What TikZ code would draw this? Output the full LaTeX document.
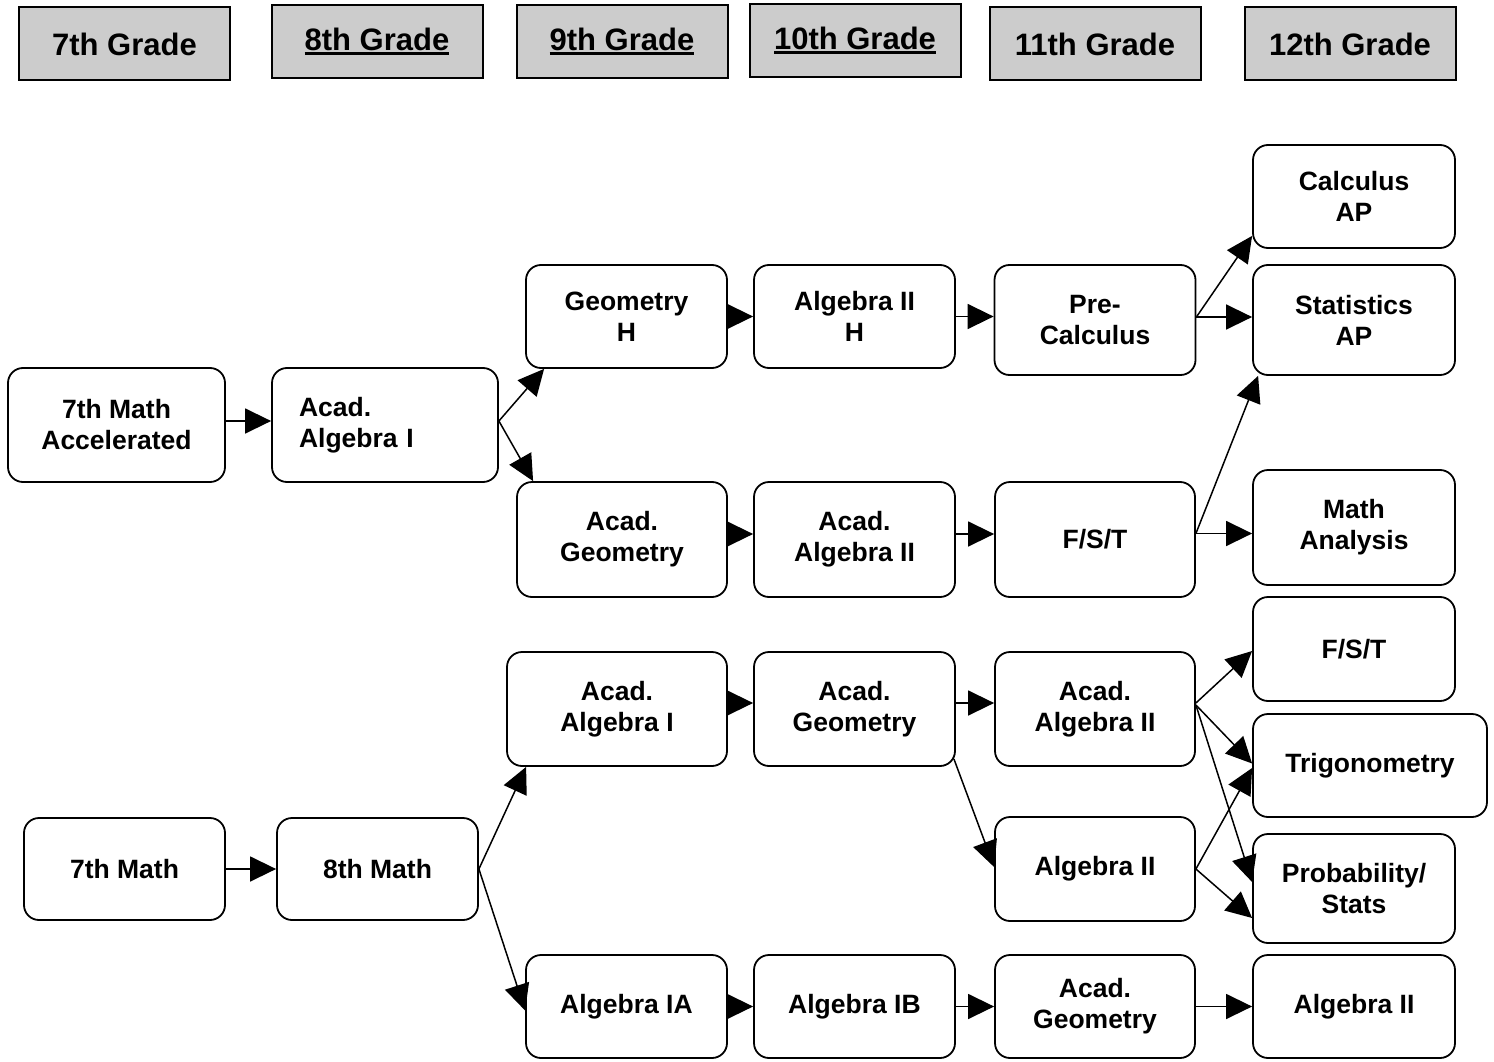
\documentclass[tikz,border=0pt]{standalone}
\usepackage{fontspec}
\setmainfont{Liberation Sans}
\usepackage{tikz}
\usetikzlibrary{arrows.meta, positioning}
\newcommand{\gradeul}[1]{\setbox0\hbox{#1}\rlap{\rule[-4.5pt]{\wd0}{2.6pt}}\box0}

\begin{document}
\begin{tikzpicture}[x=1pt, y=-1pt, >={Triangle[length=26pt, width=25pt]},
    grade/.style={draw, fill=gray!40, line width=2pt, minimum width=211pt, minimum height=73pt,
                  inner sep=0pt, font=\fontsize{31}{36}\selectfont\bfseries},
    course/.style={draw, rounded corners=15pt, line width=1.8pt, minimum width=201pt, minimum height=103pt,
                   inner sep=0pt, align=center, font=\fontsize{26.5}{31}\selectfont\bfseries},
    link/.style={->, line width=1.5pt}]
    \useasboundingbox (0,0) rectangle (1494,1062);

    % grade headers
    \node[grade] (G7)  at (124.5,44)  {7th Grade};
    \node[grade] (G8)  at (377,41.5)  {\gradeul{8th Grade}};
    \node[grade] (G9)  at (622,41.5)  {\gradeul{9th Grade}};
    \node[grade] (G10) at (855,40.5)  {\gradeul{10th Grade}};
    \node[grade] (G11) at (1095,44)   {11th Grade};
    \node[grade] (G12) at (1350,44)   {12th Grade};

    % accelerated track
    \node[course, minimum width=217pt, minimum height=114pt] (Accel) at (116.5,425) {7th Math\\Accelerated};
    \node[course, text width=172pt, inner xsep=27pt, minimum height=114pt, align=left] (AlgIa) at (385,425) {Acad.\\Algebra I};
    \node[course] (GeoH)    at (626.5,316.5) {Geometry\\H};
    \node[course] (AlgIIH)  at (854.5,316.5) {Algebra II\\H};
    \node[course, minimum height=110pt] (PreCalc) at (1095,320) {Pre-\\Calculus};
    \node[course, minimum width=202pt] (CalcAP) at (1354,196.5) {Calculus\\AP};
    \node[course, minimum width=202pt, minimum height=110pt] (StatAP) at (1354,320) {Statistics\\AP};
    \node[course, minimum width=210pt, minimum height=115pt] (AcGeoA) at (622,539.5) {Acad.\\Geometry};
    \node[course, minimum height=115pt] (AcAlgIIA) at (854.5,539.5) {Acad.\\Algebra II};
    \node[course, minimum width=200pt, minimum height=115pt] (FSTa) at (1095,539.5) {F/S/T};
    \node[course, minimum width=202pt, minimum height=115pt] (MathAn) at (1354,527.5) {Math\\Analysis};

    % regular track
    \node[course, minimum height=102pt] (Math7) at (124.5,869) {7th Math};
    \node[course, minimum height=102pt] (Math8) at (377.5,869) {8th Math};
    \node[course, minimum width=220pt, minimum height=114pt] (AlgIb) at (617,709) {Acad.\\Algebra I};
    \node[course, minimum height=114pt] (AcGeoB) at (854.5,709) {Acad.\\Geometry};
    \node[course, minimum width=200pt, minimum height=114pt] (AcAlgIIB) at (1095,709) {Acad.\\Algebra II};
    \node[course, minimum width=200pt, minimum height=104pt] (AlgIIB) at (1095,869) {Algebra II};
    \node[course, minimum width=202pt, minimum height=104pt] (FSTb) at (1354,649) {F/S/T};
    \node[course, minimum width=234pt] (Trig) at (1370,765.5) {Trigonometry};
    \node[course, minimum width=202pt, minimum height=109pt] (ProbSt) at (1354,888.5) {Probability/\\Stats};
    \node[course] (AlgIA)  at (626.5,1006.5) {Algebra IA};
    \node[course] (AlgIB)  at (854.5,1006.5) {Algebra IB};
    \node[course, minimum width=200pt] (AcGeoC) at (1095,1006.5) {Acad.\\Geometry};
    \node[course, minimum width=202pt] (AlgIIC) at (1354,1006.5) {Algebra II};

    % accelerated links
    \draw[link] ([yshift=4pt]Accel.east) -- ([yshift=4pt]Accel.east -| AlgIa.west);
    \draw[link] ([yshift=4pt]AlgIa.east) -- ([xshift=19pt]GeoH.south west);
    \draw[link] ([yshift=4pt]AlgIa.east) -- ([xshift=17pt]AcGeoA.north west);
    \draw[link] (GeoH.east) -- (GeoH.east -| AlgIIH.west);
    \draw[link] (AlgIIH.east) -- (AlgIIH.east -| PreCalc.west);
    \draw[link] ([yshift=3pt]PreCalc.east) -- ([yshift=13pt]CalcAP.south west);
    \draw[link] ([yshift=3pt]PreCalc.east) -- ([yshift=3pt]PreCalc.east -| StatAP.west);
    \draw[link] ([yshift=5.5pt]AcGeoA.east) -- ([yshift=5.5pt]AcGeoA.east -| AcAlgIIA.west);
    \draw[link] ([yshift=5.5pt]AcAlgIIA.east) -- ([yshift=5.5pt]AcAlgIIA.east -| FSTa.west);
    \draw[link] ([yshift=6pt]FSTa.east) -- ([xshift=6pt]StatAP.south west);
    \draw[link] ([yshift=6pt]FSTa.east) -- ([yshift=6pt]FSTa.east -| MathAn.west);

    % regular links
    \draw[link] (Math7.east) -- (Math7.east -| Math8.west);
    \draw[link] (Math8.east) -- ([xshift=20pt]AlgIb.south west);
    \draw[link] (Math8.east) -- ([yshift=-4pt]AlgIA.west);
    \draw[link] ([yshift=6pt]AlgIb.east) -- ([yshift=6pt]AlgIb.east -| AcGeoB.west);
    \draw[link] ([yshift=6pt]AcGeoB.east) -- ([yshift=6pt]AcGeoB.east -| AcAlgIIB.west);
    \draw[link] ([xshift=-2pt, yshift=8pt]AcGeoB.south east) -- ([yshift=2pt]AlgIIB.west);
    \draw[link] ([yshift=6pt]AcAlgIIB.east) -- ([yshift=-2pt]FSTb.west);
    \draw[link] ([yshift=4pt]AcAlgIIB.east) -- ([yshift=2pt]Trig.west);
    \draw[link] ([yshift=4pt]AcAlgIIB.east) -- ([yshift=6.5pt]ProbSt.west);
    \draw[link] (AlgIIB.east) -- ([yshift=-2.5pt]Trig.west);
    \draw[link] (AlgIIB.east) -- ([yshift=-29.5pt]ProbSt.west);
    \draw[link] (AlgIA.east) -- (AlgIB.west);
    \draw[link] (AlgIB.east) -- (AcGeoC.west);
    \draw[link] (AcGeoC.east) -- (AlgIIC.west);
\end{tikzpicture}
\end{document}
